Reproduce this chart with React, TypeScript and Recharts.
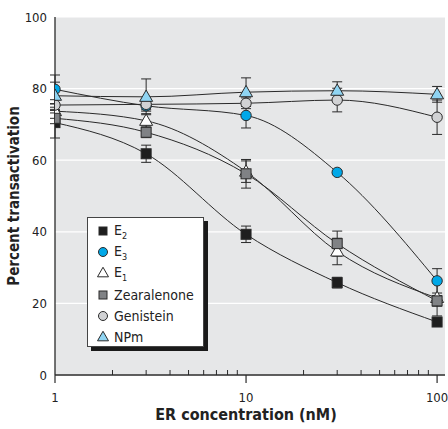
import React from 'react';
import { LineChart, Line, XAxis, YAxis, CartesianGrid, ErrorBar } from 'recharts';

const CONC = [1, 3, 10, 30, 100];
const E2 = [70.5, 61.8, 39.3, 25.8, 14.8];
const E2_ERR = [4.3, 2.4, 2.3, 1.5, 0.8];
const E3 = [79.8, 75.2, 72.5, 56.6, 26.3];
const E3_ERR = [4, 1.5, 3.5, 0.5, 3.4];
const E1 = [73.7, 71, 56.8, 34.5, 21.5];
const E1_ERR = [2, 2, 3, 3.7, 5];
const ZEA = [71.7, 67.8, 56.2, 36.7, 20.7];
const ZEA_ERR = [1.5, 1.5, 4, 3.5, 1.5];
const GEN = [75.4, 75.6, 75.9, 76.8, 72];
const GEN_ERR = [1.5, 1.5, 1.5, 3.3, 4.8];
const NPM = [78, 77.7, 79, 79.4, 78.4];
const NPM_ERR = [3.8, 5, 4, 2.5, 2.2];

const Y_TICKS = [0, 20, 40, 60, 80, 100];
const X_MAJOR = [1, 10, 100];
const X_TICKS = [1, 2, 3, 4, 5, 6, 7, 8, 9, 10, 20, 30, 40, 50, 60, 70, 80, 90, 100];

const data = CONC.map((c, i) => ({
    conc: c,
    e2: E2[i], e2Err: E2_ERR[i],
    e3: E3[i], e3Err: E3_ERR[i],
    e1: E1[i], e1Err: E1_ERR[i],
    zea: ZEA[i], zeaErr: ZEA_ERR[i],
    gen: GEN[i], genErr: GEN_ERR[i],
    npm: NPM[i], npmErr: NPM_ERR[i],
}));

const FONT = "'Liberation Sans Narrow', 'DejaVu Sans Condensed', 'Arial Narrow', sans-serif";
const INK = '#2a2a2a';

const Square = ({ cx, cy, fill, size = 10 }: any) => (
    <rect x={cx - size / 2} y={cy - size / 2} width={size} height={size} fill={fill} stroke={INK} strokeWidth={1} />
);
const Circle = ({ cx, cy, fill, r = 5 }: any) => (
    <circle cx={cx} cy={cy} r={r} fill={fill} stroke={INK} strokeWidth={1} />
);
const Triangle = ({ cx, cy, fill, size = 12 }: any) => {
    const h = size * 0.87;
    return (
        <polygon
            points={`${cx},${cy - h * 0.6} ${cx - size / 2},${cy + h * 0.4} ${cx + size / 2},${cy + h * 0.4}`}
            fill={fill} stroke={INK} strokeWidth={1}
        />
    );
};

const SERIES = [
    { key: 'e2', name: 'E', sub: '2', shape: 'square', fill: '#1e1e1e' },
    { key: 'e3', name: 'E', sub: '3', shape: 'circle', fill: '#00a8e8' },
    { key: 'e1', name: 'E', sub: '1', shape: 'triangle', fill: '#ffffff' },
    { key: 'zea', name: 'Zearalenone', sub: '', shape: 'square', fill: '#808285' },
    { key: 'gen', name: 'Genistein', sub: '', shape: 'circle', fill: '#d1d2d4' },
    { key: 'npm', name: 'NPm', sub: '', shape: 'triangle', fill: '#8fd4f2' },
];

const renderMarker = (shape: string, fill: string, small = false) => (props: any) => {
    const { cx, cy, index } = props;
    const k = `m-${shape}-${fill}-${index}`;
    if (shape === 'square') return <Square key={k} cx={cx} cy={cy} fill={fill} size={small ? 8 : 10} />;
    if (shape === 'circle') return <Circle key={k} cx={cx} cy={cy} fill={fill} r={small ? 4.5 : 5.2} />;
    return <Triangle key={k} cx={cx} cy={cy} fill={fill} size={small ? 11 : 13} />;
};

const XTick = (props: any) => {
    const { x, y, payload } = props;
    const v = payload.value;
    if (X_MAJOR.includes(v)) {
        return (
            <g>
                <line x1={x} x2={x} y1={y} y2={y + 8} stroke={INK} strokeWidth={1.2} />
                <text x={x} y={y + 27} textAnchor="middle" fontSize={13} fontFamily={FONT} fill="#222">{v}</text>
            </g>
        );
    }
    return <line x1={x} x2={x} y1={y} y2={y - 5} stroke={INK} strokeWidth={1} />;
};

function LegendBox() {
    return (
        <div style={{
            position: 'absolute', left: 87, top: 217, width: 117, height: 130,
            background: '#fff', border: '1px solid #444', boxShadow: '4px 4px 0 #1a1a1a',
            fontFamily: FONT, fontSize: 14, color: '#222', boxSizing: 'border-box',
        }}>
            {SERIES.map((s, i) => (
                <div key={s.key} style={{ position: 'absolute', left: 8, top: 3 + i * 21.2, height: 20, display: 'flex', alignItems: 'center' }}>
                    <svg width={14} height={14} style={{ marginRight: 4 }}>
                        {renderMarker(s.shape, s.fill, true)({ cx: 7, cy: 7, index: i })}
                    </svg>
                    <span>{s.name}{s.sub && <sub style={{ fontSize: 9 }}>{s.sub}</sub>}</span>
                </div>
            ))}
        </div>
    );
}

export default function App() {
    return (
        <div style={{ position: 'absolute', left: 0, top: 0, width: 448, height: 429, background: '#fff' }}>
            <LineChart width={448} height={429} data={data} margin={{ top: 17, right: 3, bottom: 0, left: 0 }}>
                <CartesianGrid horizontal vertical={false} fill="#e6e7e8" stroke="#ffffff" strokeWidth={1.2} />
                <XAxis
                    dataKey="conc"
                    type="number"
                    scale="log"
                    domain={[1, 110]}
                    allowDataOverflow
                    ticks={X_TICKS}
                    interval={0}
                    height={54}
                    tickSize={0}
                    tickMargin={0}
                    tickLine={false}
                    axisLine={{ stroke: INK, strokeWidth: 1.3 }}
                    tick={<XTick />}
                    label={{
                        content: () => (
                            <text x={246} y={420} textAnchor="middle" fontSize={16} fontWeight="bold" fontFamily={FONT} fill="#222">
                                ER concentration (nM)
                            </text>
                        ),
                    }}
                />
                <YAxis
                    type="number"
                    domain={[0, 100]}
                    ticks={Y_TICKS}
                    width={55}
                    tickSize={0}
                    tickMargin={8}
                    tickLine={false}
                    axisLine={{ stroke: INK, strokeWidth: 1.3 }}
                    tick={{ fontSize: 13, fontFamily: FONT, fill: '#222' }}
                    label={{
                        content: () => (
                            <text x={14} y={196} transform="rotate(-90 14 196)" textAnchor="middle" dominantBaseline="central"
                                fontSize={15} fontWeight="bold" fontFamily={FONT} fill="#222">
                                Percent transactivation
                            </text>
                        ),
                    }}
                />
                {SERIES.map((s) => (
                    <Line
                        key={s.key}
                        dataKey={s.key}
                        type="monotone"
                        stroke={INK}
                        strokeWidth={1}
                        isAnimationActive={false}
                        dot={renderMarker(s.shape, s.fill)}
                        activeDot={false}
                    >
                        <ErrorBar dataKey={`${s.key}Err`} width={5} stroke={INK} strokeWidth={1} direction="y" />
                    </Line>
                ))}
            </LineChart>
            <LegendBox />
        </div>
    );
}
